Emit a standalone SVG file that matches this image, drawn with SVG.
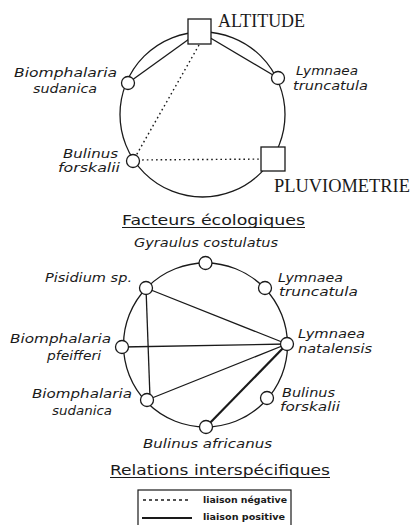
<svg xmlns="http://www.w3.org/2000/svg" width="415" height="525" viewBox="0 0 415 525">
<style>
.ring{fill:none;stroke:#1a1a1a;stroke-width:1.3}
.node{fill:#fff;stroke:#1a1a1a;stroke-width:1.3}
.pos{stroke:#1a1a1a;stroke-width:1.3;fill:none}
.neg{stroke:#1a1a1a;stroke-width:1.4;fill:none;stroke-dasharray:1.6 3}
.lab{font-family:"DejaVu Sans","Liberation Sans",sans-serif;font-style:italic;font-size:12px;fill:#1a1a1a}
.fac{font-family:"Liberation Serif","DejaVu Serif",serif;font-size:18px;fill:#1a1a1a}
.title{font-family:"DejaVu Sans","Liberation Sans",sans-serif;font-size:14px;fill:#1a1a1a}
.leg{font-family:"DejaVu Sans","Liberation Sans",sans-serif;font-weight:bold;font-size:8px;fill:#1a1a1a}
</style>
<rect width="415" height="525" fill="#fff"/>
<!-- rings -->
<circle class="ring" cx="202.5" cy="114.5" r="82.5"/>
<circle class="ring" cx="205.5" cy="345" r="82"/>
<!-- connectors -->
<g id="connectors">
  <line class="pos" x1="199.5" y1="31.5" x2="128" y2="83"/>
  <line class="pos" x1="199.5" y1="31.5" x2="278" y2="78"/>
  <line class="neg" x1="199" y1="45" x2="133" y2="161"/>
  <line class="neg" x1="133" y1="160" x2="273" y2="159"/>
  <line class="pos" x1="146" y1="288" x2="287" y2="344"/>
  <line class="pos" x1="146" y1="288" x2="150" y2="398"/>
  <line class="pos" x1="122" y1="347" x2="287" y2="344"/>
  <line class="pos" x1="147" y1="400" x2="287" y2="344"/>
  <line class="pos" x1="206" y1="427" x2="287" y2="344" style="stroke-width:2.2"/>
</g>
<!-- top diagram nodes -->
<g id="altitude">
  <rect class="node" x="188" y="19" width="23" height="25"/>
  <text class="fac" x="218" y="27" textLength="87" lengthAdjust="spacingAndGlyphs">ALTITUDE</text>
</g>
<g id="pluviometrie">
  <rect class="node" x="261" y="147" width="24" height="24"/>
  <text class="fac" x="274" y="192" textLength="136" lengthAdjust="spacingAndGlyphs">PLUVIOMETRIE</text>
</g>
<g id="t-biomphalaria-sudanica">
  <circle class="node" cx="128" cy="83" r="6.5"/>
  <text class="lab" x="14" y="77" textLength="103" lengthAdjust="spacingAndGlyphs">Biomphalaria</text>
  <text class="lab" x="33" y="93" textLength="64" lengthAdjust="spacingAndGlyphs">sudanica</text>
</g>
<g id="t-lymnaea-truncatula">
  <circle class="node" cx="278" cy="78" r="6.5"/>
  <text class="lab" x="296" y="75" textLength="62" lengthAdjust="spacingAndGlyphs">Lymnaea</text>
  <text class="lab" x="293" y="90" textLength="75" lengthAdjust="spacingAndGlyphs">truncatula</text>
</g>
<g id="t-bulinus-forskalii">
  <circle class="node" cx="133" cy="161" r="6.5"/>
  <text class="lab" x="63" y="158" textLength="55" lengthAdjust="spacingAndGlyphs">Bulinus</text>
  <text class="lab" x="58" y="172" textLength="62" lengthAdjust="spacingAndGlyphs">forskalii</text>
</g>
<!-- titles -->
<g id="title-facteurs">
  <text class="title" x="122" y="225" textLength="183" lengthAdjust="spacingAndGlyphs">Facteurs écologiques</text>
  <line x1="122" y1="227.5" x2="305" y2="227.5" stroke="#1a1a1a" stroke-width="1"/>
</g>
<!-- bottom diagram nodes -->
<g id="b-gyraulus">
  <circle class="node" cx="205.5" cy="263" r="6.5"/>
  <text class="lab" x="134" y="247" textLength="144" lengthAdjust="spacingAndGlyphs">Gyraulus costulatus</text>
</g>
<g id="b-pisidium">
  <circle class="node" cx="146" cy="288" r="6.5"/>
  <text class="lab" x="45" y="282" textLength="87" lengthAdjust="spacingAndGlyphs">Pisidium sp.</text>
</g>
<g id="b-lymnaea-truncatula">
  <circle class="node" cx="265" cy="288" r="6.5"/>
  <text class="lab" x="278" y="282" textLength="65" lengthAdjust="spacingAndGlyphs">Lymnaea</text>
  <text class="lab" x="279" y="296" textLength="79" lengthAdjust="spacingAndGlyphs">truncatula</text>
</g>
<g id="b-biomphalaria-pfeifferi">
  <circle class="node" cx="122" cy="347" r="6.5"/>
  <text class="lab" x="10" y="343" textLength="101" lengthAdjust="spacingAndGlyphs">Biomphalaria</text>
  <text class="lab" x="47" y="360" textLength="54" lengthAdjust="spacingAndGlyphs">pfeifferi</text>
</g>
<g id="b-lymnaea-natalensis">
  <circle class="node" cx="287" cy="344" r="6.5"/>
  <text class="lab" x="298" y="338" textLength="67" lengthAdjust="spacingAndGlyphs">Lymnaea</text>
  <text class="lab" x="298" y="353" textLength="74" lengthAdjust="spacingAndGlyphs">natalensis</text>
</g>
<g id="b-biomphalaria-sudanica">
  <circle class="node" cx="147" cy="400" r="6.5"/>
  <text class="lab" x="32" y="398" textLength="100" lengthAdjust="spacingAndGlyphs">Biomphalaria</text>
  <text class="lab" x="52" y="415" textLength="60" lengthAdjust="spacingAndGlyphs">sudanica</text>
</g>
<g id="b-bulinus-forskalii">
  <circle class="node" cx="267" cy="398" r="6.5"/>
  <text class="lab" x="282" y="397" textLength="53" lengthAdjust="spacingAndGlyphs">Bulinus</text>
  <text class="lab" x="280" y="411" textLength="60" lengthAdjust="spacingAndGlyphs">forskalii</text>
</g>
<g id="b-bulinus-africanus">
  <circle class="node" cx="206" cy="427" r="6.5"/>
  <text class="lab" x="143" y="448" textLength="129" lengthAdjust="spacingAndGlyphs">Bulinus africanus</text>
</g>
<g id="title-relations">
  <text class="title" x="110" y="475" textLength="220" lengthAdjust="spacingAndGlyphs">Relations interspécifiques</text>
  <line x1="110" y1="477.5" x2="330" y2="477.5" stroke="#1a1a1a" stroke-width="1"/>
</g>
<!-- legend -->
<g id="legend">
  <rect x="138" y="490" width="153" height="40" fill="none" stroke="#1a1a1a" stroke-width="1.2"/>
  <line x1="143" y1="500" x2="191" y2="500" stroke="#1a1a1a" stroke-width="1.6" stroke-dasharray="3 3"/>
  <text class="leg" x="203" y="503" textLength="84" lengthAdjust="spacingAndGlyphs">liaison négative</text>
  <line x1="142" y1="518" x2="192" y2="518" stroke="#1a1a1a" stroke-width="1.8"/>
  <text class="leg" x="203" y="520" textLength="82" lengthAdjust="spacingAndGlyphs">liaison positive</text>
</g>
</svg>
